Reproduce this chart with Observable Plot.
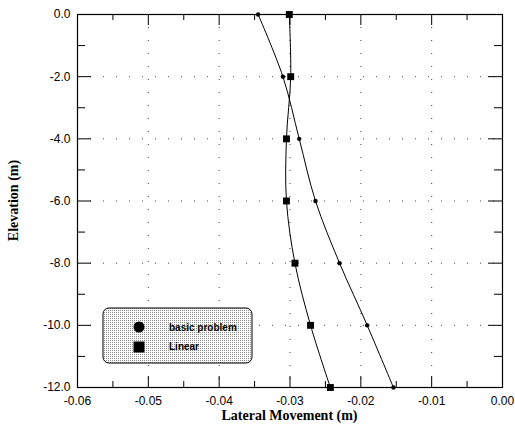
<!DOCTYPE html>
<html><head><meta charset="utf-8">
<script src="https://cdn.jsdelivr.net/npm/d3@7"></script>
<script src="https://cdn.jsdelivr.net/npm/@observablehq/plot@0.6"></script>
<style>body{margin:0;background:#fff} #chart{position:absolute;left:0;top:0}</style>
</head><body><div id="chart"></div>
<script>
const elevations = [0, -2, -4, -6, -8, -10, -12];
const basicProblem = [-0.0345, -0.0310, -0.0287, -0.0264, -0.0230, -0.0191, -0.0154];
const linear = [-0.0301, -0.0299, -0.0305, -0.0305, -0.0293, -0.0271, -0.0243];
const xTicks = [-0.06, -0.05, -0.04, -0.03, -0.02, -0.01, 0];
const xMinor = [-0.055, -0.045, -0.035, -0.025, -0.015, -0.005];
const yTicks = [0, -2, -4, -6, -8, -10, -12];
const yMinor = [-1, -3, -5, -7, -9, -11];
const xGrid = [-0.05, -0.04, -0.03, -0.02, -0.01];
const yGrid = [-2, -4, -6, -8, -10];
const seriesNames = ["basic problem", "Linear"];
const xTitle = "Lateral Movement (m)";
const yTitle = "Elevation (m)";

const W = 515, H = 425, mL = 77, mR = 13, mT = 14, mB = 38;
const pw = W - mL - mR, ph = H - mT - mB;
const basicData = elevations.map((e, i) => ({x: basicProblem[i], y: e}));
const linData = elevations.map((e, i) => ({x: linear[i], y: e}));

const chart = Plot.plot({
  width: W, height: H,
  marginLeft: mL, marginRight: mR, marginTop: mT, marginBottom: mB,
  style: {fontFamily: "'Liberation Sans', Arial, sans-serif", fontSize: "12px", background: "#fff", color: "#000"},
  x: {domain: [-0.06, 0], label: null},
  y: {domain: [-12, 0], label: null},
  marks: [
    Plot.ruleX(xGrid, {stroke: "#444", strokeDasharray: "1,12"}),
    Plot.ruleY(yGrid, {stroke: "#444", strokeDasharray: "1,12"}),
    Plot.line(basicData, {x: "x", y: "y", curve: "catmull-rom", stroke: "#000", strokeWidth: 1}),
    Plot.line(linData, {x: "x", y: "y", curve: "catmull-rom", stroke: "#000", strokeWidth: 1}),
    Plot.dot(basicData, {x: "x", y: "y", r: 2.2, symbol: "circle", fill: "#000"}),
    Plot.dot(linData, {x: "x", y: "y", r: 3.9, symbol: "square", fill: "#000"}),
    Plot.frame({stroke: "#000", strokeWidth: 1.2}),
    Plot.ruleX(xTicks, {insetTop: ph - 11, stroke: "#000"}),
    Plot.ruleX(xTicks, {insetBottom: ph - 11, stroke: "#000"}),
    Plot.ruleX(xMinor, {insetTop: ph - 6, stroke: "#000"}),
    Plot.ruleX(xMinor, {insetBottom: ph - 6, stroke: "#000"}),
    Plot.ruleY(yTicks, {insetRight: pw - 14, stroke: "#000"}),
    Plot.ruleY(yTicks, {insetLeft: pw - 14, stroke: "#000"}),
    Plot.ruleY(yMinor, {insetRight: pw - 8, stroke: "#000"}),
    Plot.ruleY(yMinor, {insetLeft: pw - 8, stroke: "#000"}),
    Plot.axisX({ticks: xTicks, tickSize: 0, tickPadding: 8.5, tickFormat: d => d.toFixed(2), label: null}),
    Plot.axisY({ticks: yTicks, tickSize: 0, tickPadding: 7, tickFormat: d => d.toFixed(1), label: null})
  ]
});
document.getElementById("chart").appendChild(chart);

const svg = d3.select(chart);
const xs = chart.scale("x"), ys = chart.scale("y");
svg.append("text").text(xTitle)
  .attr("x", (xs.apply(-0.06) + xs.apply(0)) / 2).attr("y", 420)
  .attr("text-anchor", "middle")
  .style("font-family", "'Liberation Serif', 'Times New Roman', serif")
  .style("font-weight", "bold").style("font-size", "14px");
svg.append("text").text(yTitle)
  .attr("transform", `translate(18,${(ys.apply(0) + ys.apply(-12)) / 2}) rotate(-90)`)
  .attr("text-anchor", "middle")
  .style("font-family", "'Liberation Serif', 'Times New Roman', serif")
  .style("font-weight", "bold").style("font-size", "14px");

// legend
const defs = svg.append("defs");
const pat = defs.append("pattern").attr("id", "stip").attr("patternUnits", "userSpaceOnUse")
  .attr("width", 2).attr("height", 2);
pat.append("rect").attr("width", 2).attr("height", 2).attr("fill", "#fff");
pat.append("rect").attr("width", 1).attr("height", 1).attr("fill", "#8a8a8a");
const lg = svg.append("g");
lg.append("rect").attr("x", 103).attr("y", 308).attr("width", 149).attr("height", 55)
  .attr("rx", 6).attr("fill", "url(#stip)").attr("stroke", "#000").attr("stroke-width", 1);
lg.append("circle").attr("cx", 139).attr("cy", 327).attr("r", 5.5).attr("fill", "#000");
lg.append("rect").attr("x", 133.5).attr("y", 341.5).attr("width", 11).attr("height", 11).attr("fill", "#000");
seriesNames.forEach((n, i) => {
  lg.append("text").text(n).attr("x", 169).attr("y", 330.5 + i * 19)
    .attr("text-anchor", "start")
    .style("font-family", "'Liberation Sans', Arial, sans-serif")
    .style("font-weight", "bold").style("font-size", "10px");
});
</script>
</body></html>
